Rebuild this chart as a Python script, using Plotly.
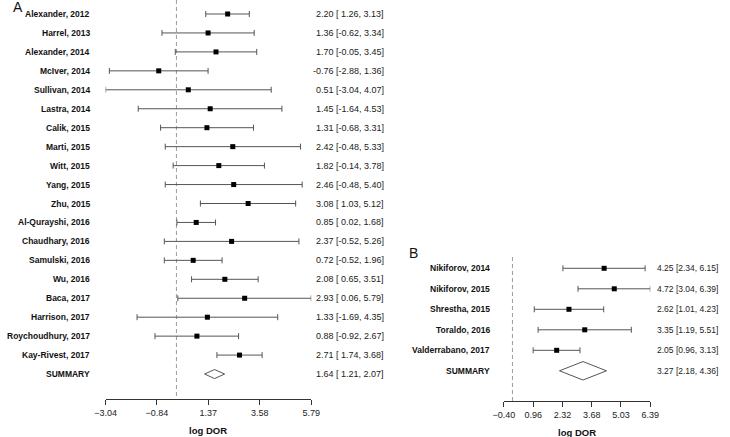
import plotly.graph_objects as go

# ---------------- data ----------------
studies_a = ["Alexander, 2012", "Harrel, 2013", "Alexander, 2014", "McIver, 2014",
             "Sullivan, 2014", "Lastra, 2014", "Calik, 2015", "Marti, 2015",
             "Witt, 2015", "Yang, 2015", "Zhu, 2015", "Al-Qurayshi, 2016",
             "Chaudhary, 2016", "Samulski, 2016", "Wu, 2016", "Baca, 2017",
             "Harrison, 2017", "Roychoudhury, 2017", "Kay-Rivest, 2017"]
est_a = [2.20, 1.36, 1.70, -0.76, 0.51, 1.45, 1.31, 2.42, 1.82, 2.46, 3.08,
         0.85, 2.37, 0.72, 2.08, 2.93, 1.33, 0.88, 2.71]
lo_a = [1.26, -0.62, -0.05, -2.88, -3.04, -1.64, -0.68, -0.48, -0.14, -0.48,
        1.03, 0.02, -0.52, -0.52, 0.65, 0.06, -1.69, -0.92, 1.74]
hi_a = [3.13, 3.34, 3.45, 1.36, 4.07, 4.53, 3.31, 5.33, 3.78, 5.40, 5.12,
        1.68, 5.26, 1.96, 3.51, 5.79, 4.35, 2.67, 3.68]
summary_a = [1.64, 1.21, 2.07]
ticks_a = [-3.04, -0.84, 1.37, 3.58, 5.79]

studies_b = ["Nikiforov, 2014", "Nikiforov, 2015", "Shrestha, 2015",
             "Toraldo, 2016", "Valderrabano, 2017"]
est_b = [4.25, 4.72, 2.62, 3.35, 2.05]
lo_b = [2.34, 3.04, 1.01, 1.19, 0.96]
hi_b = [6.15, 6.39, 4.23, 5.51, 3.13]
summary_b = [3.27, 2.18, 4.36]
ticks_b = [-0.40, 0.96, 2.32, 3.68, 5.03, 6.39]

W, H = 730, 437
FONT = "Liberation Sans, Arial, sans-serif"
BAR = "#555555"

def tick_text(v):
    s = f"{abs(v):.2f}"
    return ("\u2212" + s) if v < 0 else s

fig = go.Figure()

def add_panel(studies, est, lo, hi, summ, xa, ya, diamond_h, yspan):
    n = len(studies)
    rows = list(range(n))
    fig.add_trace(go.Scatter(x=[0, 0], y=list(yspan), mode="lines",
                             line=dict(color="#999999", width=1, dash="4px,3px"),
                             xaxis=xa, yaxis=ya, hoverinfo="skip", showlegend=False))
    fig.add_trace(go.Scatter(
        x=est, y=rows, mode="markers",
        marker=dict(symbol="square", size=5, color="black"),
        error_x=dict(type="data", symmetric=False,
                     array=[h - e for h, e in zip(hi, est)],
                     arrayminus=[e - l for e, l in zip(est, lo)],
                     color=BAR, thickness=1, width=3),
        xaxis=xa, yaxis=ya, showlegend=False, cliponaxis=False, hoverinfo="skip"))
    e, l, h = summ
    fig.add_trace(go.Scatter(
        x=[l, e, h, e, l], y=[n, n - diamond_h, n, n + diamond_h, n],
        mode="lines", fill="toself", fillcolor="white",
        line=dict(color=BAR, width=1), xaxis=xa, yaxis=ya,
        showlegend=False, cliponaxis=False, hoverinfo="skip"))

add_panel(studies_a, est_a, lo_a, hi_a, summary_a, "x", "y", 0.24, (-0.739, 20.3))
add_panel(studies_b, est_b, lo_b, hi_b, summary_b, "x2", "y2", 0.45, (-0.551, 6.47))

annotations = []

def fmt_lo(v, pad):
    return f"{v:5.2f}" if pad else f"{v:.2f}"

def add_labels(studies, est, lo, hi, summ, ya, xlab, xnum, pad, numsize):
    names = studies + ["SUMMARY"]
    E = est + [summ[0]]
    L = lo + [summ[1]]
    Hh = hi + [summ[2]]
    for i, name in enumerate(names):
        annotations.append(dict(x=xlab / W, y=i, xref="paper", yref=ya,
                                text=f"<b>{name}</b>", showarrow=False,
                                xanchor="right", yanchor="middle",
                                font=dict(family=FONT, size=8.5, color="#111111")))
        txt = f"{E[i]:.2f} [{fmt_lo(L[i], pad)}, {Hh[i]:.2f}]".replace(" ", "&nbsp;")
        annotations.append(dict(x=xnum / W, y=i, xref="paper", yref=ya,
                                text=txt, showarrow=False,
                                xanchor="right", yanchor="middle",
                                font=dict(family=FONT, size=numsize, color="#222222")))

add_labels(studies_a, est_a, lo_a, hi_a, summary_a, "y", 83, 386, True, 9)
add_labels(studies_b, est_b, lo_b, hi_b, summary_b, "y2", 495, 729, False, 8.5)

annotations += [
    dict(x=203 / W, y=(H - 430) / H, xref="paper", yref="paper", text="<b>log DOR</b>",
         showarrow=False, xanchor="center", yanchor="middle",
         font=dict(family=FONT, size=9.5, color="#111111")),
    dict(x=582 / W, y=(H - 432) / H, xref="paper", yref="paper", text="<b>log DOR</b>",
         showarrow=False, xanchor="center", yanchor="middle",
         font=dict(family=FONT, size=9.5, color="#111111")),
    dict(x=7 / W, y=(H - 7) / H, xref="paper", yref="paper", text="A",
         showarrow=False, xanchor="center", yanchor="middle",
         font=dict(family=FONT, size=14, color="#111111")),
    dict(x=414 / W, y=(H - 253) / H, xref="paper", yref="paper", text="B",
         showarrow=False, xanchor="center", yanchor="middle",
         font=dict(family=FONT, size=14, color="#111111")),
]

xcommon = dict(showline=True, linecolor="#333333", linewidth=1, ticks="outside",
               ticklen=5, tickwidth=1, tickcolor="#333333", showgrid=False,
               zeroline=False, tickfont=dict(family=FONT, size=9, color="#222222"))
ycommon = dict(visible=False, showgrid=False, zeroline=False)

fig.update_layout(
    width=W, height=H, margin=dict(l=0, r=0, t=0, b=0),
    paper_bgcolor="white", plot_bgcolor="white",
    xaxis=dict(domain=[97.3 / W, 308.7 / W], range=[-3.04, 5.79], anchor="y",
               tickvals=ticks_a, ticktext=[tick_text(v) for v in ticks_a], **xcommon),
    yaxis=dict(domain=[(H - 399) / H, 1], range=[20.317, -0.739], anchor="x", **ycommon),
    xaxis2=dict(domain=[506.7 / W, 657.3 / W], range=[-0.40, 6.39], anchor="y2",
                tickvals=ticks_b, ticktext=[tick_text(v) for v in ticks_b], **xcommon),
    yaxis2=dict(domain=[(H - 401) / H, (H - 257) / H], range=[6.473, -0.551],
                anchor="x2", **ycommon),
    annotations=annotations,
    showlegend=False,
)

fig.write_html("out.html", config={"displayModeBar": False},
               post_script="document.body.style.margin='0';document.body.style.overflow='hidden';")
